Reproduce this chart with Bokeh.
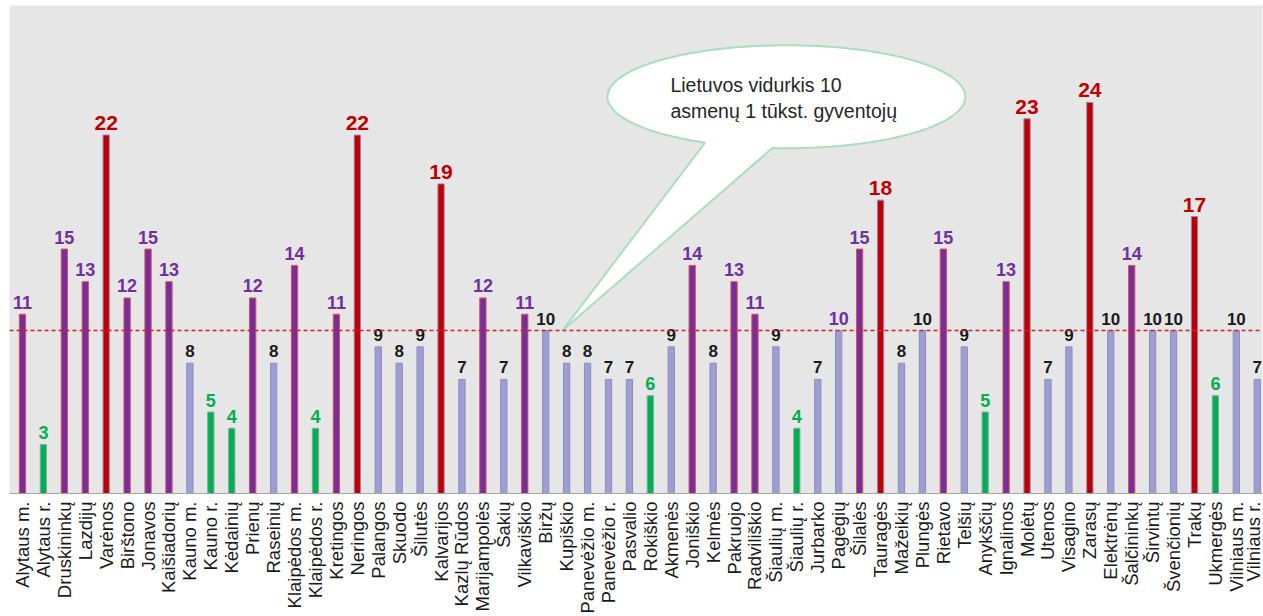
import math
from bokeh.plotting import figure
from bokeh.models import ColumnDataSource, Range1d, FixedTicker, Span, Label
from bokeh.core.properties import value
from bokeh.embed import file_html
from bokeh.resources import INLINE

# Municipalities, in the order they are shown
municipalities = [
    "Alytaus m.", "Alytaus r.", "Druskininkų", "Lazdijų", "Varėnos", "Birštono",
    "Jonavos", "Kaišiadorių", "Kauno m.", "Kauno r.", "Kėdainių", "Prienų",
    "Raseinių", "Klaipėdos m.", "Klaipėdos r.", "Kretingos", "Neringos", "Palangos",
    "Skuodo", "Šilutės", "Kalvarijos", "Kazlų Rūdos", "Marijampolės", "Šakių",
    "Vilkaviškio", "Biržų", "Kupiškio", "Panevėžio m.", "Panevėžio r.", "Pasvalio",
    "Rokiškio", "Akmenės", "Joniškio", "Kelmės", "Pakruojo", "Radviliškio",
    "Šiaulių m.", "Šiaulių r.", "Jurbarko", "Pagėgių", "Šilalės", "Tauragės",
    "Mažeikių", "Plungės", "Rietavo", "Telšių", "Anykščių", "Ignalinos",
    "Molėtų", "Utenos", "Visagino", "Zarasų", "Elektrėnų", "Šalčininkų",
    "Širvintų", "Švenčionių", "Trakų", "Ukmergės", "Vilniaus m.", "Vilniaus r.",
]

# Persons per 1 000 inhabitants
rate = [
    11, 3, 15, 13, 22, 12, 15, 13, 8, 5, 4, 12,
    8, 14, 4, 11, 22, 9, 8, 9, 19, 7, 12, 7,
    11, 10, 8, 8, 7, 7, 6, 9, 14, 8, 13, 11,
    9, 4, 7, 10, 15, 18, 8, 10, 15, 9, 5, 13,
    23, 7, 9, 24, 10, 14, 10, 10, 17, 6, 10, 7,
]

# Rate class of each municipality: low / mid / high / top
rate_class = [
    "high", "low", "high", "high", "top", "high", "high", "high", "mid", "low", "low", "high",
    "mid", "high", "low", "high", "top", "mid", "mid", "mid", "top", "mid", "high", "mid",
    "high", "mid", "mid", "mid", "mid", "mid", "low", "mid", "high", "mid", "high", "high",
    "mid", "low", "mid", "mid", "high", "top", "mid", "mid", "high", "mid", "low", "high",
    "top", "mid", "mid", "top", "mid", "high", "mid", "mid", "top", "low", "mid", "mid",
]
# Value labels whose colour differs from the bar class
label_class_override = {"Pagėgių": "high"}

national_average = 10
callout_lines = ["Lietuvos vidurkis 10", "asmenų 1 tūkst. gyventojų"]

FILL = {"low": "#00B050", "mid": "#9E9ED2", "high": "#7030A0", "top": "#C00000"}
EDGE = {"low": "#8AA6A6", "mid": "#8C8CC0", "high": "#F0484E", "top": "#9A86B4"}
LABEL = {"low": "#00B050", "mid": "#1A1A1A", "high": "#7030A0", "top": "#C00000"}
LABEL_SIZE = {"low": "18px", "mid": "17px", "high": "18px", "top": "21px"}

xs = list(range(len(municipalities)))
label_classes = [label_class_override.get(m, c) for m, c in zip(municipalities, rate_class)]

src = ColumnDataSource(dict(
    x=xs,
    rate=rate,
    txt=[str(v) for v in rate],
    fill=[FILL[c] for c in rate_class],
    edge=[EDGE[c] for c in rate_class],
    lcolor=[LABEL[c] for c in label_classes],
    lsize=[LABEL_SIZE[c] for c in label_classes],
))

p = figure(
    width=1263, height=616,
    output_backend="svg", toolbar_location=None,
    x_range=Range1d(-0.62, 59.25), y_range=Range1d(0, 29.95),
    min_border_left=9, min_border_right=1, min_border_top=5, min_border_bottom=123,
)
p.background_fill_color = "#E6E6E6"
p.border_fill_color = "white"
p.outline_line_color = None
p.grid.visible = False
p.yaxis.visible = False

ax = p.xaxis[0]
ax.ticker = FixedTicker(ticks=xs)
ax.major_label_overrides = {i: m for i, m in zip(xs, municipalities)}
ax.major_label_orientation = math.pi / 2
ax.major_label_text_font = "Liberation Sans"
ax.major_label_text_font_size = "18.5px"
ax.major_label_text_color = "#1A1A1A"
ax.major_label_standoff = 8
ax.axis_line_color = "#A6A6A6"
ax.axis_line_width = 1
ax.major_tick_line_color = None
ax.minor_tick_line_color = None
ax.major_tick_out = 0
ax.major_tick_in = 0

p.vbar(x="x", top="rate", bottom=0, width=0.3, source=src,
       fill_color="fill", line_color="edge", line_width=1)

p.text(x="x", y="rate", text="txt", source=src,
       text_align="center", text_baseline="alphabetic", y_offset=-12,
       text_color="lcolor", text_font=value("Liberation Sans"),
       text_font_style="bold", text_font_size="lsize")

# Speech-bubble callout pointing at the national average line
cx, cy, rx, ry = 36.5, 24.35, 8.55, 3.16
tail_from, tail_to = 243.0, 265.0
tip = (25.8, national_average)
bx, by = [], []
steps = 240
prev_deg = 0.0
for k in range(steps + 1):
    deg = 360.0 * k / steps
    if tail_from < deg < tail_to:
        continue
    if bx and deg > tail_to and prev_deg <= tail_from:
        bx.append(tip[0])
        by.append(tip[1])
    t = math.radians(deg)
    bx.append(cx + rx * math.cos(t))
    by.append(cy + ry * math.sin(t))
    prev_deg = deg
p.patch(bx, by, fill_color="white", line_color="#A9DDC3", line_width=2)

for i, line in enumerate(callout_lines):
    p.add_layout(Label(x=30.96, y=25.05 - i * 1.55, text=line,
                       text_baseline="middle", text_align="left",
                       text_font="Liberation Sans", text_font_size="19.5px",
                       text_color="#262626"))

p.add_layout(Span(location=national_average, dimension="width",
                  line_color="#D42020", line_dash="4 3", line_width=1.5))

open("out.html", "w").write(file_html(p, INLINE))
